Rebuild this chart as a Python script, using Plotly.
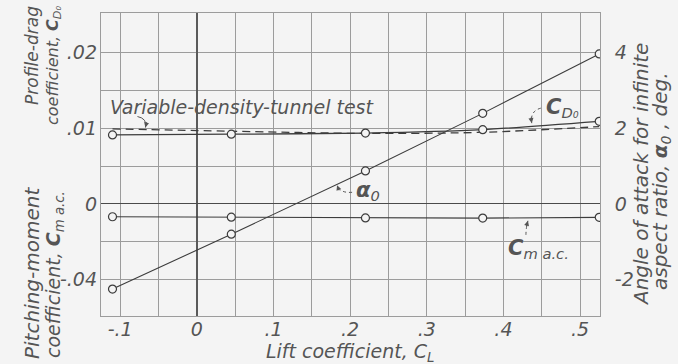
import numpy as np
import plotly.graph_objects as go

# ---- data -------------------------------------------------------------
# Lift coefficient at the test points
cl = [-0.11, 0.045, 0.22, 0.373, 0.525]
# Profile-drag coefficient
cd0 = [0.0091, 0.0092, 0.00935, 0.0098, 0.0109]
# Variable-density-tunnel test (faired curve)
cl_vdt = [-0.11, 0.045, 0.22, 0.373, 0.525]
cd0_vdt = [0.0099, 0.0096, 0.0093, 0.00945, 0.0102]
# Angle of attack for infinite aspect ratio, deg
alpha0 = [-2.25, -0.8, 0.87, 2.39, 3.96]
# Pitching-moment coefficient about the aerodynamic center
cm_ac = [-0.0068, -0.0070, -0.0074, -0.0075, -0.0071]

x_label_vals = [-0.1, 0.0, 0.1, 0.2, 0.3, 0.4, 0.5]
x_label_text = ["-.1", "0", ".1", ".2", ".3", ".4", ".5"]
cd_label_vals = [0.01, 0.02]
cd_label_text = [".01", ".02"]
cm_label_vals = [-0.04, 0.0]
cm_label_text = ["-.04", "0"]
a_label_vals = [-2, 0, 2, 4]
a_label_text = ["-2", "0", "2", "4"]

# ---- geometry ---------------------------------------------------------
W, H = 678, 364
L, R, T, B = 101, 600, 13, 316          # plot area, pixels

CL_RANGE = [-0.125, 0.526]
A_RANGE = [-2.96, 5.04]                  # one grid division = 1 deg
CD_RANGE = [a * 0.005 for a in A_RANGE]  # one division = .005
CM_RANGE = [a * 0.02 for a in A_RANGE]   # one division = .02

BG = "#f4f4f4"
INK = "#3c3c3c"
GRID = "#9c9c9c"
TXT = "#555555"
FONT = "DejaVu Sans"


def px(x):
    return (x - L) / (R - L)


def py(y):
    return (B - y) / (B - T)


def x_pix(v):
    return L + (v - CL_RANGE[0]) / (CL_RANGE[1] - CL_RANGE[0]) * (R - L)


def y_pix(v, rng):
    return B - (v - rng[0]) / (rng[1] - rng[0]) * (B - T)


x_grid = [round(v, 2) for v in np.arange(-0.1, 0.5001, 0.05)]
x_grid_text = [x_label_text[x_label_vals.index(v)] if v in x_label_vals else ""
               for v in x_grid]
a_grid = list(range(-2, 5))
a_grid_text = [a_label_text[a_label_vals.index(v)] if v in a_label_vals else ""
               for v in a_grid]

marker = dict(symbol="circle", size=8, color=BG, line=dict(color=INK, width=1.2))

fig = go.Figure()
fig.add_trace(go.Scatter(x=cl_vdt, y=cd0_vdt, yaxis="y", mode="lines",
                         line=dict(color=INK, width=1.3, dash="8px,5px",
                                   shape="spline", smoothing=0.8),
                         hoverinfo="skip"))
fig.add_trace(go.Scatter(x=cl, y=cd0, yaxis="y", mode="lines+markers",
                         line=dict(color=INK, width=1.3, shape="spline",
                                   smoothing=0.6),
                         marker=marker))
fig.add_trace(go.Scatter(x=cl, y=alpha0, yaxis="y3", mode="lines+markers",
                         line=dict(color=INK, width=1.1), marker=marker))
fig.add_trace(go.Scatter(x=cl, y=cm_ac, yaxis="y2", mode="lines+markers",
                         line=dict(color=INK, width=1.1), marker=marker))

# ---- leader arrows ----------------------------------------------------
shapes = []
annotations = []


def pointer(tip, tail, ctrl, dash):
    (tx, ty), (sx, sy), (cx, cy) = tip, tail, ctrl
    shapes.append(dict(type="path", xref="paper", yref="paper",
                       path=f"M {px(sx)},{py(sy)} Q {px(cx)},{py(cy)} {px(tx)},{py(ty)}",
                       line=dict(color=TXT, width=1, dash=dash)))
    dx, dy = tx - cx, ty - cy
    n = (dx * dx + dy * dy) ** 0.5
    annotations.append(dict(x=px(tx), y=py(ty), xref="paper", yref="paper",
                            text="", showarrow=True, arrowhead=2, arrowsize=1,
                            arrowwidth=1, arrowcolor=TXT,
                            ax=-dx / n * 7, ay=-dy / n * 7))


# Variable-density-tunnel test -> dashed curve
c = -0.067
tx, ty = x_pix(c), y_pix(np.interp(c, cl_vdt, cd0_vdt), CD_RANGE) - 2
pointer((tx, ty), (tx - 8, ty - 11), (tx + 2, ty - 9), "solid")

# C_D0 -> solid drag curve
c = 0.437
tx, ty = x_pix(c), y_pix(np.interp(c, cl, cd0), CD_RANGE) - 3
pointer((tx, ty), (tx + 9, ty - 15), (tx - 2, ty - 12), "dot")

# alpha_0 -> lift line
c = 0.183
tx, ty = x_pix(c), y_pix(np.interp(c, cl, alpha0), A_RANGE) + 1
pointer((tx, ty), (tx + 15, ty + 7), (tx + 3, ty + 8), "dot")

# C_m a.c. -> moment line
c = 0.432
tx, ty = x_pix(c), y_pix(np.interp(c, cl, cm_ac), CM_RANGE) + 3
pointer((tx, ty), (tx - 2, ty + 14), (tx - 2, ty + 7), "dot")

# ---- labels -----------------------------------------------------------
def label(x, y, text, size, angle=0, xanchor="center"):
    annotations.append(dict(x=px(x), y=py(y), xref="paper", yref="paper",
                            xanchor=xanchor, yanchor="middle", showarrow=False,
                            textangle=angle, text=text, font=dict(size=size)))


label(108, 107, "Variable-density-tunnel test", 19, xanchor="left")
label(562, 108, "<b>C</b><sub>D₀</sub>", 21)
label(368, 191, "<b>α</b><sub>0</sub>", 21)
label(538, 249, "<b>C</b><sub>m a.c.</sub>", 21)

# axis titles
label(350, 352, "Lift coefficient, C<sub>L</sub>", 19)
label(32, 56, "Profile-drag", 17, -90)
label(53, 66, "coefficient, <b>C</b><sub>D₀</sub>", 16, -90)
label(32, 273, "Pitching-moment", 20, -90)
label(54, 275, "coefficient, <b>C</b><sub>m a.c.</sub>", 19, -90)
label(641, 175, "Angle of attack for infinite", 20, -90)
label(661, 181, "aspect ratio, <b>α</b><sub>0</sub> , deg.", 20, -90)

fig.update_layout(
    width=W, height=H, autosize=False,
    margin=dict(l=L, r=W - R, t=T, b=H - B, pad=0),
    paper_bgcolor=BG, plot_bgcolor=BG,
    showlegend=False,
    font=dict(family=FONT, style="italic", color=TXT, size=19),
    xaxis=dict(range=CL_RANGE, tickmode="array", tickvals=x_grid,
               ticktext=x_grid_text, ticks="", ticklabelstandoff=-4,
               showgrid=True, gridcolor=GRID, gridwidth=1,
               zeroline=True, zerolinecolor="#5a5a5a", zerolinewidth=2,
               showline=True, mirror=True, linecolor=GRID, linewidth=1),
    yaxis=dict(range=CD_RANGE, tickmode="array", tickvals=cd_label_vals,
               ticktext=cd_label_text, ticks="", ticklabelstandoff=3,
               showgrid=False, zeroline=False, side="left"),
    yaxis2=dict(range=CM_RANGE, tickmode="array", tickvals=cm_label_vals,
                ticktext=cm_label_text, ticks="", ticklabelstandoff=3,
                showgrid=False, zeroline=False, side="left", overlaying="y"),
    yaxis3=dict(range=A_RANGE, tickmode="array", tickvals=a_grid,
                ticktext=a_grid_text, ticks="", ticklabelstandoff=10,
                showgrid=True, gridcolor=GRID, gridwidth=1,
                zeroline=True, zerolinecolor="#4a4a4a", zerolinewidth=1.3,
                showline=True, mirror=True, linecolor=GRID, linewidth=1,
                side="right", overlaying="y"),
    shapes=shapes,
    annotations=annotations,
)

fig.write_html("out.html")
